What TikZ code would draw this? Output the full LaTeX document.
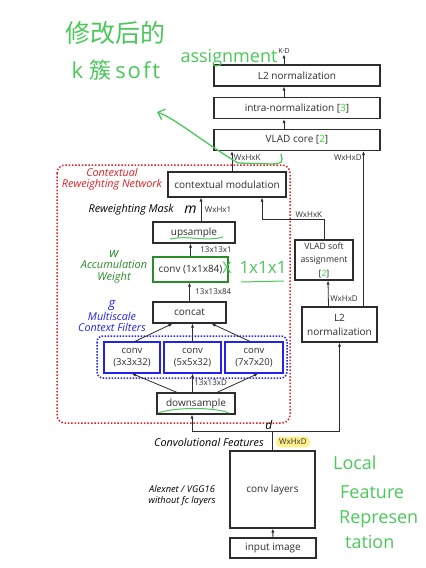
\documentclass[tikz,border=0pt]{standalone}
\usepackage{fontspec}
\setmainfont{Open Sans}
\newfontfamily\cjk{Noto Sans CJK SC}
\usetikzlibrary{positioning,arrows.meta,calc}
\definecolor{ink}{RGB}{45,45,45}
\definecolor{ctxred}{RGB}{225,30,35}
\definecolor{msblue}{RGB}{35,35,235}
\definecolor{accgreen}{RGB}{40,140,40}
\definecolor{refgreen}{RGB}{40,225,40}
\definecolor{pen}{RGB}{75,200,90}
\definecolor{hilite}{RGB}{255,240,140}

\begin{document}
\begin{tikzpicture}[x=1pt,y=-1pt,>={Latex[length=4pt,width=3.2pt]},
  box/.style={draw=ink,line width=1.2pt,text=ink,inner sep=1pt,align=center,font=\fontsize{10}{12}\selectfont},
  dim/.style={text=ink,inner sep=1.5pt,font=\fontsize{8}{9}\selectfont},
  side/.style={align=center,inner sep=0pt,font=\fontsize{10.8}{11}\selectfont\itshape},
  flow/.style={->,draw=ink,line width=0.8pt},
  hand/.style={text=pen,inner sep=0pt}]
  \fill[white] (0,0) rectangle (426,568);
  \useasboundingbox (0,0) rectangle (426,568);

  \draw[ctxred,line width=1.5pt,dash pattern=on 1.5pt off 1.8pt,rounded corners=8] (57,165) rectangle (290,423);
  \draw[msblue,line width=1.5pt,dash pattern=on 1.5pt off 1.5pt,rounded corners=6] (97,336) rectangle (287,378);

  \node[box,minimum width=166,minimum height=21] (l2top) at (297,75.5) {L2 normalization};
  \node[box,minimum width=166,minimum height=21] (intra) at (297,108) {intra-normalization [{\color{refgreen}3}]};
  \node[box,minimum width=166,minimum height=21] (vladcore) at (297,140) {VLAD core [{\color{refgreen}2}]};
  \node[box,minimum width=118,minimum height=25] (ctxmod) at (227,184.5) {contextual modulation};
  \node[box,minimum width=82,minimum height=21] (upsample) at (194,232.5) {upsample};
  \node[box,draw=accgreen,minimum width=75,minimum height=25] (convw) at (190.5,269.5) {conv (1x1x84)};
  \node[box,minimum width=73,minimum height=21] (concat) at (189.5,312.5) {concat};
  \node[box,draw=msblue,minimum width=56,minimum height=31,font=\fontsize{9.5}{12.5}\selectfont] (convA) at (132,357.5) {conv\\(3x3x32)};
  \node[box,draw=msblue,minimum width=57,minimum height=31,font=\fontsize{9.5}{12.5}\selectfont] (convB) at (192.5,357.5) {conv\\(5x5x32)};
  \node[box,draw=msblue,minimum width=58,minimum height=31,font=\fontsize{9.5}{12.5}\selectfont] (convC) at (254,357.5) {conv\\(7x7x20)};
  \node[box,minimum width=78,minimum height=21] (downsample) at (196,403.5) {downsample};
  \node[box,minimum width=85,minimum height=77] (convlayers) at (272.5,489.5) {conv layers};
  \node[box,minimum width=86,minimum height=20] (input) at (273,548) {input image};
  \node[box,minimum width=58,minimum height=40,font=\fontsize{8.7}{13.5}\selectfont] (vladsoft) at (324,260) {VLAD soft\\assignment\\{[}{\color{refgreen}2}{]}};
  \node[box,minimum width=75,minimum height=35,font=\fontsize{10}{14}\selectfont] (l2right) at (339.5,324.5) {L2\\normalization};

  \coordinate (split) at (272.5,431);
  \draw[flow] (input) -- (convlayers);
  \draw[ink,line width=0.8pt] (convlayers.north) -- (split);
  \draw[flow] (split) -| ([xshift=-4]downsample.south);
  \draw[flow] (split) -| (l2right.south);
  \node[side,anchor=south east,inner sep=1pt,font=\fontsize{12}{12}\selectfont\itshape] (dlab) at ([xshift=1]split) {d};
  \node[dim,fill=hilite,rounded corners=4pt,inner xsep=3pt,inner ysep=2.5pt] (convdim) at (293,442) {WxHxD};
  \node[side] (cflab) at (209,442) {Convolutional Features};
  \node[side,font=\fontsize{9.3}{11.5}\selectfont\itshape] (alexlab) at (182,495.5) {Alexnet / VGG16\\without fc layers};

  \draw[flow] ([xshift=-19]downsample.north) -- (convA.south);
  \draw[flow] (downsample.north -| convB.south) -- (convB.south) node[midway,right,dim] {13x13xD};
  \draw[flow] ([xshift=21]downsample.north) -- ([xshift=4]convC.south);
  \draw[flow] ([xshift=3]convA.north) -- ([xshift=-17]concat.south);
  \draw[flow] (convB.north) -- (convB.north |- concat.south);
  \draw[flow] ([xshift=-4]convC.north) -- ([xshift=22]concat.south);
  \draw[flow] (concat.north) -- (concat.north |- convw.south) node[midway,right=4pt,dim] {13x13x84};
  \draw[flow] (convw.north) -- (convw.north |- upsample.south) node[midway,right=8pt,dim] {13x13x1};
  \draw[flow] ([xshift=7]upsample.north) -- ([xshift=7]upsample.north |- ctxmod.south) node[midway,right=2pt,dim] {WxHx1}
    node[midway,left=4pt,side,font=\fontsize{14}{14}\selectfont\itshape] (mlab) {m};
  \node[side,left=10pt of mlab] (rwmask) {Reweighting Mask};
  \draw[flow] ([xshift=5]ctxmod.north) -- ([xshift=5]ctxmod.north |- vladcore.south) node[pos=0.7,right,dim] {WxHxK};
  \draw[flow] ([xshift=-11]l2right.north) -- ([xshift=4]vladsoft.south) node[pos=0.3,right,dim] {WxHxD};
  \draw[flow] ([xshift=24]l2right.north) -- ([xshift=24]l2right.north |- vladcore.south) node[pos=0.96,left,dim] {WxHxD};
  \draw[flow] (vladsoft.north) -- ++(0,-20) node[above left,dim] {WxHxK} -| ([xshift=35]ctxmod.south);
  \draw[flow] ([xshift=-13]vladcore.north) -- ([xshift=-13]intra.south);
  \draw[flow] ([xshift=-13]intra.north) -- ([xshift=-13]l2top.south);
  \draw[flow] ([xshift=-13]l2top.north) -- ++(0,-10) node[above,dim,inner sep=0.5pt,font=\fontsize{7}{8}\selectfont] {K·D};

  \node[side,text=ctxred] (ctxlab) at (112,179.5) {Contextual\\Reweighting Network};
  \node[side,text=accgreen,font=\fontsize{11}{11.5}\selectfont\itshape] (acclab) at (114,266.5) {{\fontsize{13}{11.5}\selectfont w}\\Accumulation\\Weight};
  \node[side,text=msblue] (msflab) at (112,316) {{\fontsize{13}{11}\selectfont g}\\Multiscale\\Context Filters};

  \node[hand,font=\cjk\fontsize{25}{26}\selectfont] (hwtitle) at (115,33) {修改后的};
  \node[hand,font=\fontsize{22}{24}\selectfont] (hwsoft) at (116,70) {k\hspace{6pt}{\cjk 簇}\hspace{4pt}s\hspace{2pt}o\hspace{2pt}f\hspace{2pt}t};
  \node[hand,font=\fontsize{18}{20}\selectfont] (hwassign) at (229,58) {assignment};
  \draw[pen,line width=1.3pt,-{Straight Barb[length=6pt,width=11pt]}] (281,154) .. controls (283,163) .. (272,164) -- (238,163) .. controls (200,140) and (176,119) .. (157,112);
  \draw[pen,line width=1pt] (170,239) .. controls (190,235) and (205,242) .. (223,237);
  \draw[pen,line width=1pt] (158,413) .. controls (175,407) and (215,407) .. (229,413);
  \node[hand,font=\fontsize{16}{16}\selectfont] (hwx) at (227,268) {X};
  \node[hand,font=\fontsize{17}{17}\selectfont] (hwdim) at (263,267) {1x1x1};
  \draw[pen,line width=1pt] (241,282) -- (284,281);
  \node[hand,anchor=west,font=\fontsize{18}{20}\selectfont] (hwlocal) at (333,463) {Local};
  \node[hand,anchor=west,font=\fontsize{18}{20}\selectfont] (hwfeat) at (340,492) {Feature};
  \node[hand,anchor=west,font=\fontsize{18}{20}\selectfont] (hwrep) at (339,519) {Represen};
  \node[hand,anchor=west,font=\fontsize{18}{20}\selectfont] (hwtat) at (345,542) {tation};
\end{tikzpicture}
\end{document}
